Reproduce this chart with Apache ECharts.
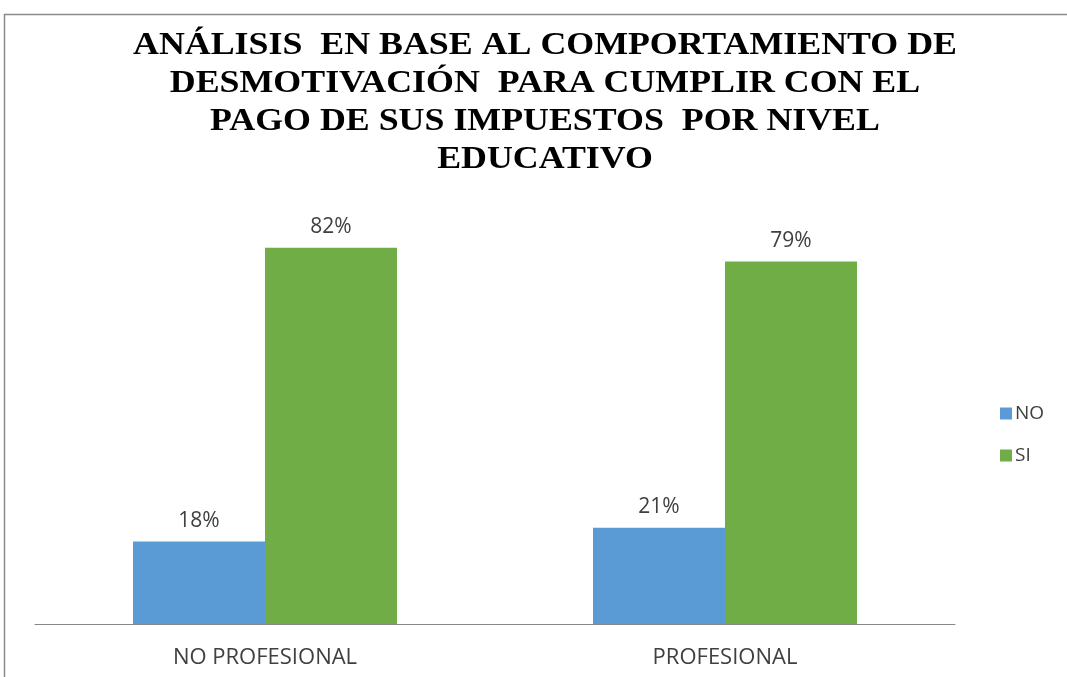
<!DOCTYPE html>
<html>
<head>
<meta charset="utf-8">
<script src="https://cdn.jsdelivr.net/npm/echarts@6/dist/echarts.min.js"></script>
<style>
    html, body { margin: 0; padding: 0; background: #fff; }
    #chart { width: 1067px; height: 677px; }
</style>
</head>
<body>
<div id="chart"></div>
<script>
const categories = ["NO PROFESIONAL", "PROFESIONAL"];
const seriesNames = ["NO", "SI"];
const noValues = [18, 21];
const siValues = [82, 79];
const colors = ["#5B9BD5", "#70AD47"];

const titleText =
    "ANÁLISIS  EN BASE AL COMPORTAMIENTO DE\n" +
    "DESMOTIVACIÓN  PARA CUMPLIR CON EL\n" +
    "PAGO DE SUS IMPUESTOS  POR NIVEL\n" +
    "EDUCATIVO";

const labelStyle = {
    show: true,
    position: "top",
    distance: 10,
    formatter: "{c}%",
    fontFamily: "Open Sans",
    fontSize: 21,
    color: "#404040",
};

const chart = echarts.init(document.getElementById("chart"));

chart.setOption({
    animation: false,
    backgroundColor: "#fff",
    legend: {
        orient: "vertical",
        left: 995,
        top: 399,
        itemWidth: 12,
        itemHeight: 12,
        itemGap: 23,
        icon: "rect",
        data: seriesNames,
        textStyle: {
            fontFamily: "Open Sans",
            fontSize: 19,
            color: "#404040",
            padding: [0, 0, 0, -2],
        },
    },
    grid: {
        left: 35,
        right: 112,
        top: 211,
        bottom: 53,
        containLabel: false,
    },
    xAxis: {
        type: "category",
        data: categories,
        axisLine: { lineStyle: { color: "#888", width: 1 } },
        axisTick: { show: false },
        axisLabel: {
            margin: 23,
            fontFamily: "Open Sans",
            fontSize: 22,
            color: "#404040",
        },
    },
    yAxis: {
        type: "value",
        min: 0,
        max: 90,
        show: false,
        splitLine: { show: false },
    },
    series: [
        {
            name: seriesNames[0],
            type: "bar",
            data: noValues,
            barWidth: 132,
            barGap: "0%",
            itemStyle: { color: colors[0] },
            label: labelStyle,
        },
        {
            name: seriesNames[1],
            type: "bar",
            data: siValues,
            barWidth: 132,
            barGap: "0%",
            itemStyle: { color: colors[1] },
            label: labelStyle,
        },
    ],
    graphic: [
        {
            type: "text",
            x: 545,
            y: 27,
            scaleX: 1.12,
            style: {
                text: titleText,
                textAlign: "center",
                fontFamily: "Liberation Serif",
                fontWeight: "bold",
                fontSize: 32,
                lineHeight: 38,
                fill: "#000",
            },
        },
        {
            type: "line",
            shape: { x1: 4, y1: 14.5, x2: 1067, y2: 14.5 },
            style: { stroke: "#8a8a8a", lineWidth: 1.5 },
        },
        {
            type: "line",
            shape: { x1: 4.5, y1: 14, x2: 4.5, y2: 677 },
            style: { stroke: "#8a8a8a", lineWidth: 1.5 },
        },
    ],
});
</script>
</body>
</html>
